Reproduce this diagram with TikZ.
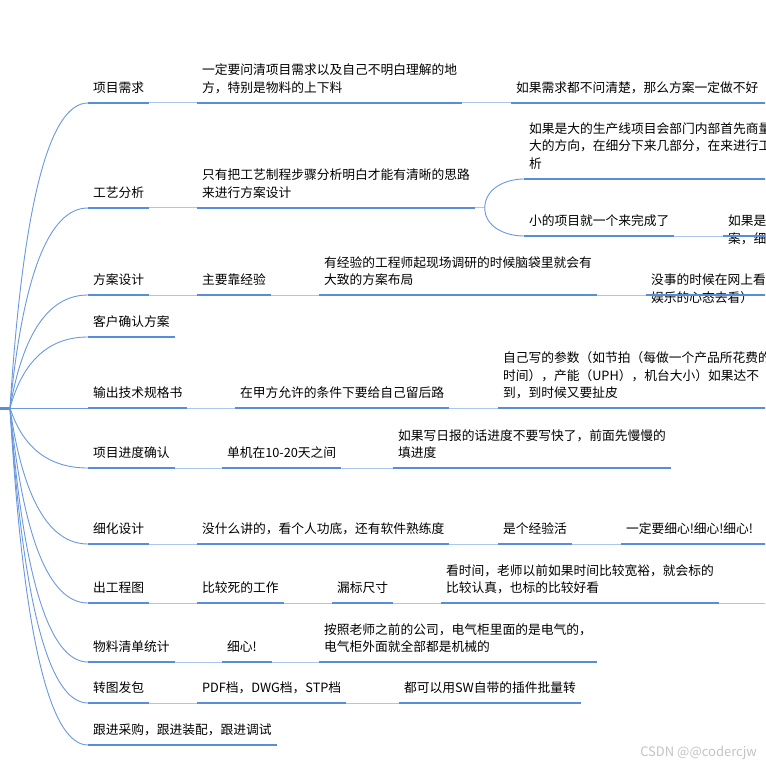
\documentclass[tikz,border=0pt]{standalone}
\usepackage{fontspec}
\setmainfont{Noto Sans CJK SC}
\usetikzlibrary{calc}

\definecolor{mainblue}{RGB}{88,141,216}
\definecolor{linkblue}{RGB}{170,199,236}
\definecolor{curveblue}{RGB}{105,152,222}
\definecolor{markgray}{RGB}{195,195,195}

\tikzset{
	uline/.style={draw=mainblue, line width=2.7pt},
	link/.style={draw=linkblue, line width=1pt},
	branch/.style={draw=curveblue, line width=0.9pt},
	topic/.style={anchor=south west, align=left, inner xsep=5pt, inner ysep=10.5pt, outer sep=0pt,
		text depth=0pt, font=\fontsize{12.75pt}{17.5pt}\selectfont,
		append after command={(\tikzlastnode.south west) edge[uline] (\tikzlastnode.south east)}},
}

\begin{document}
\begin{tikzpicture}[x=1pt, y=-1pt]
			
			\useasboundingbox (0,0) rectangle (765,767);
			\clip (0,0) rectangle (765,767);
			
			\coordinate (rootL) at (0,408);
			\coordinate (root) at (10,408);
			\draw[uline, line width=3pt] (rootL) -- (root);
			
			% first level
			{
				\node[topic] (n1) at (88,103) {项目需求};
				\node[topic] (n2) at (88,208) {工艺分析};
				\node[topic] (n3) at (88,295) {方案设计};
				\node[topic] (n4) at (88,337) {客户确认方案};
				\node[topic] (n5) at (88,408) {输出技术规格书};
				\node[topic] (n6) at (88,468) {项目进度确认};
				\node[topic] (n7) at (88,544) {细化设计};
				\node[topic] (n8) at (88,603) {出工程图};
				\node[topic] (n9) at (88,662) {物料清单统计};
				\node[topic] (n10) at (88,703) {转图发包};
				\node[topic] (n11) at (88,745) {跟进采购，跟进装配，跟进调试};
			}
			
			\foreach \n in {n1,n2,n3,n4,n6,n7,n8,n9,n10,n11}
			{
				\draw[branch] (root) .. controls ($(root)!0.667!(root|-\n.south west)+(13,0)$) and ($(\n.south west)+(-39,0)$) .. (\n.south west);
			}
			\draw[branch] (root) -- (n5.south west);
			
			% second level and further
			{
				\node[topic] (n1a) at (197,103) {一定要问清项目需求以及自己不明白理解的地\\方，特别是物料的上下料};
				\node[topic, text width=250pt] (n1b) at (511,103) {如果需求都不问清楚，那么方案一定做不好};
				
				\node[topic] (n2a) at (197,208) {只有把工艺制程步骤分析明白才能有清晰的思路\\来进行方案设计};
				\coordinate (fork2) at ($(n2a.south east)+(10,0)$);
				\node[topic] (n2b) at (524,179) {如果是大的生产线项目会部门内部首先商量一个\\大的方向，在细分下来几部分，在来进行工艺分\\析};
				\node[topic] (n2c) at (524,236) {小的项目就一个来完成了};
				\node[topic, text width=60pt] (n2d) at (723,236) {如果是\\案，细};
				
				\node[topic] (n3a) at (197,295) {主要靠经验};
				\node[topic] (n3b) at (319,295) {有经验的工程师起现场调研的时候脑袋里就会有\\大致的方案布局};
				\node[topic, text width=130pt] (n3c) at (646,295) {没事的时候在网上看\\娱乐的心态去看）};
				
				\node[topic] (n5a) at (235,408) {在甲方允许的条件下要给自己留后路};
				\node[topic] (n5b) at (498,408) {自己写的参数（如节拍（每做一个产品所花费的\\时间），产能（UPH），机台大小）如果达不\\到，到时候又要扯皮};
				
				\node[topic] (n6a) at (222,468) {单机在10-20天之间};
				\node[topic] (n6b) at (393,468) {如果写日报的话进度不要写快了，前面先慢慢的\\填进度};
				
				\node[topic] (n7a) at (197,544) {没什么讲的，看个人功底，还有软件熟练度};
				\node[topic] (n7b) at (498,544) {是个经验活};
				\node[topic, text width=150pt] (n7c) at (621,544) {一定要细心!细心!细心!};
				
				\node[topic] (n8a) at (197,603) {比较死的工作};
				\node[topic] (n8b) at (332,603) {漏标尺寸};
				\node[topic] (n8c) at (441,603) {看时间，老师以前如果时间比较宽裕，就会标的\\比较认真，也标的比较好看};
				\coordinate (n8end) at (770,603);
				
				\node[topic, text width=40pt] (n9a) at (222,662) {细心!};
				\node[topic] (n9b) at (319,662) {按照老师之前的公司，电气柜里面的是电气的，\\电气柜外面就全部都是机械的};
				
				\node[topic] (n10a) at (197,703) {PDF档，DWG档，STP档};
				\node[topic] (n10b) at (399,703) {都可以用SW自带的插件批量转};
			}
			
			\draw[link] (n1.south east) -- (n1a.south west);
			\draw[link] (n1a.south east) -- (n1b.south west);
			\draw[link] (n2.south east) -- (n2a.south west);
			\draw[link] (n2a.south east) -- (fork2);
			\draw[branch] (fork2) to[out=90, in=180] (n2b.south west);
			\draw[branch] (fork2) to[out=-90, in=180] (n2c.south west);
			\draw[link] (n2c.south east) -- (n2d.south west);
			\draw[link] (n3.south east) -- (n3a.south west);
			\draw[link] (n3a.south east) -- (n3b.south west);
			\draw[link] (n3b.south east) -- (n3c.south west);
			\draw[link] (n5.south east) -- (n5a.south west);
			\draw[link] (n5a.south east) -- (n5b.south west);
			\draw[link] (n6.south east) -- (n6a.south west);
			\draw[link] (n6a.south east) -- (n6b.south west);
			\draw[link] (n7.south east) -- (n7a.south west);
			\draw[link] (n7a.south east) -- (n7b.south west);
			\draw[link] (n7b.south east) -- (n7c.south west);
			\draw[link] (n8.south east) -- (n8a.south west);
			\draw[link] (n8a.south east) -- (n8b.south west);
			\draw[link] (n8b.south east) -- (n8c.south west);
			\draw[link] (n8c.south east) -- (n8end);
			\draw[link] (n9.south east) -- (n9a.south west);
			\draw[link] (n9a.south east) -- (n9b.south west);
			\draw[link] (n10.south east) -- (n10a.south west);
			\draw[link] (n10a.south east) -- (n10b.south west);
			
			\node[anchor=south east, inner sep=0pt, text=markgray, font=\fontsize{13pt}{14pt}\selectfont] (mark) at (757,760) {CSDN @@codercjw};
			
\end{tikzpicture}
\end{document}
